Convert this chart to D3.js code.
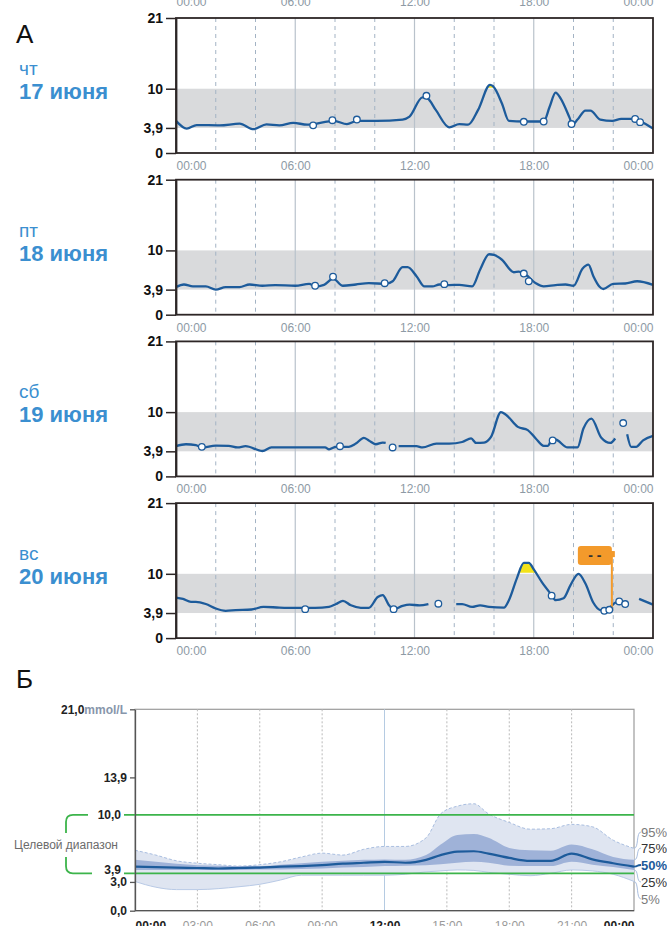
<!DOCTYPE html>
<html>
<head>
<meta charset="utf-8">
<script src="https://cdn.jsdelivr.net/npm/d3@7/dist/d3.min.js"></script>
<style>
  body { margin: 0; background: #fff; }
  svg { font-family: "Liberation Sans", Arial, sans-serif; display: block; }
</style>
</head>
<body>
<svg id="chart" width="667" height="926"></svg>
<script>
// ---- data: daily glucose traces (hour, mmol/L), null = gap ----
const dayNames = ['чт', 'пт', 'сб', 'вс'];
const dayDates = ['17 июня', '18 июня', '19 июня', '20 июня'];

const day1 = [[0,5.0],[0.54,3.8],[1.04,4.35],[2.2,4.3],[3.2,4.56],[3.9,3.7],[4.55,4.45],[5.2,4.3],[5.9,4.7],[6.6,4.4],[7.45,4.8],[7.95,5.0],[8.6,4.5],[9.1,5.0],[10.1,5.0],[11.4,5.2],[11.75,5.65],[12.4,8.65],[12.65,8.5],[13.07,6.7],[13.75,4.0],[14.25,4.5],[14.7,4.4],[15.2,6.7],[15.8,10.6],[15.95,10.4],[16.4,7.7],[16.75,5.0],[17.5,4.9],[18.5,4.9],[18.8,7.2],[19.1,9.4],[19.35,8.5],[19.8,5.5],[19.95,4.4],[20.2,5.2],[20.6,6.6],[20.85,6.6],[21.35,5.2],[21.95,5.0],[22.4,5.3],[23.1,5.3],[23.4,4.9],[24,3.8]];
const day2 = [[0,4.3],[0.4,4.7],[0.85,4.4],[1.5,4.4],[2.0,3.9],[2.5,4.3],[3.2,4.3],[3.7,4.7],[4.35,4.5],[5.0,4.6],[6.0,4.5],[6.7,4.8],[7.0,4.4],[7.45,4.65],[7.9,5.6],[8.4,4.5],[9.05,4.7],[9.7,4.9],[10.55,4.8],[10.9,5.2],[11.4,7.4],[11.65,7.4],[12.1,6.0],[12.5,4.4],[12.9,4.4],[13.25,4.7],[13.75,4.6],[14.25,4.65],[14.9,4.4],[15.3,7.0],[15.75,9.4],[16.0,9.3],[16.4,8.55],[17.0,6.6],[17.25,6.7],[17.6,6.2],[18.1,4.9],[18.5,4.4],[19.1,4.6],[19.6,4.7],[20.0,4.5],[20.45,7.15],[20.75,7.8],[21.0,6.0],[21.3,4.4],[21.5,4.0],[22.0,4.8],[22.6,4.85],[23.2,5.2],[24,4.65]];
const day3 = [[0,4.7],[0.5,5.0],[1.0,4.85],[1.3,4.5],[2.0,4.8],[2.65,4.75],[3.1,4.5],[3.5,4.7],[4.35,3.95],[4.8,4.5],[6.0,4.5],[7.5,4.5],[7.7,4.2],[8.05,4.6],[8.7,4.6],[9.05,5.1],[9.45,6.0],[9.7,5.6],[10.05,5.0],[10.4,5.25],[10.55,5.2],[10.7,null],[11.2,4.7],[12.1,4.7],[12.4,4.5],[13.1,5.1],[13.75,5.1],[14.4,5.35],[14.85,5.9],[15.1,5.2],[15.5,5.25],[15.85,6.15],[16.35,10.0],[16.6,9.6],[17.2,7.7],[17.7,7.2],[18.1,5.9],[18.5,4.75],[18.7,4.75],[18.95,5.9],[19.2,5.6],[19.7,4.5],[20.2,4.5],[20.5,7.45],[20.9,9.0],[21.4,6.0],[21.85,5.2],[22.1,5.9],[22.4,null],[22.7,6.55],[22.9,4.6],[23.15,4.6],[23.5,5.6],[24,6.3]];
const day4 = [[0,6.3],[0.35,6.1],[0.75,5.65],[1.0,5.65],[1.5,5.3],[2.0,4.6],[2.5,4.25],[3.0,4.35],[3.8,4.45],[4.4,4.85],[5.2,4.75],[6.0,4.7],[7.0,4.7],[7.7,4.85],[8.05,5.3],[8.4,5.8],[8.8,5.1],[9.3,4.7],[9.7,4.7],[10.15,6.4],[10.4,6.7],[10.7,5.2],[10.95,4.45],[11.4,5.0],[11.75,5.2],[12.25,5.1],[12.7,5.3],[13.0,null],[14.1,5.3],[14.4,5.3],[14.9,4.85],[15.3,5.1],[15.75,4.85],[16.5,4.75],[16.75,5.9],[17.15,9.3],[17.5,11.7],[17.75,11.7],[18.0,10.7],[18.4,8.75],[18.9,6.7],[19.1,5.9],[19.5,6.2],[19.85,8.25],[20.25,10.0],[20.6,8.5],[21.0,5.5],[21.35,4.35],[21.6,4.25],[21.85,4.85],[22.1,5.5],[22.3,5.7],[22.5,null],[23.3,6.1],[24,5.2]];

// scan readings (hour, mmol/L)
const day1Scans = [[6.9,4.3],[7.87,5.1],[9.1,5.2],[12.6,8.9],[17.5,4.85],[18.5,4.9],[19.9,4.5],[23.1,5.3],[23.35,4.8]];
const day2Scans = [[7.0,4.5],[7.9,5.9],[10.5,4.9],[13.5,4.75],[17.5,6.4],[17.75,5.2]];
const day3Scans = [[1.3,4.6],[8.25,4.7],[10.9,4.5],[18.95,5.6],[22.5,8.3]];
const day4Scans = [[6.5,4.5],[10.95,4.5],[13.2,5.35],[18.9,6.6],[21.55,4.25],[21.8,4.4],[22.3,5.7],[22.6,5.3]];

// note on day 4
const noteHour = 21.93;
const noteValue = 4.6;

const hourTicks = [0, 6, 12, 18, 24];
const hourLabels = ['00:00', '06:00', '12:00', '18:00', '00:00'];
const dashHours = [2, 4, 8, 10, 14, 16, 20, 22];
const yTicksA = [0, 3.9, 10, 21];
const yLabelsA = ['0', '3,9', '10', '21'];
const targetLow = 3.9, targetHigh = 10;

// ---- data: ambulatory glucose profile (panel Б) ----
const agpHours = [0,1,2,3,4,5,6,7,8,9,10,11,12,13,14,14.7,15.5,16.3,17,18,19,20,21,22,23,24];
const p95 = [6.3,5.8,5.2,4.95,4.8,4.65,4.8,5.1,5.6,6.0,5.8,6.4,6.7,6.7,7.6,10.1,10.9,11.15,10.1,9.2,8.5,8.55,9.0,8.75,7.35,6.5];
const p75 = [5.3,5.1,4.9,4.75,4.7,4.65,4.65,4.8,4.95,5.1,5.2,5.3,5.35,5.3,5.8,6.9,7.9,8.0,7.6,6.55,6.3,6.25,6.9,6.4,5.6,5.3];
const p50 = [4.6,4.55,4.5,4.45,4.4,4.45,4.5,4.6,4.65,4.75,4.9,5.0,5.1,5.0,5.3,5.8,6.15,6.2,5.95,5.5,5.2,5.2,5.95,5.35,4.95,4.6];
const p25 = [4.25,4.25,4.25,4.25,4.25,4.25,4.3,4.3,4.35,4.4,4.5,4.55,4.65,4.7,4.75,4.85,5.0,5.1,5.0,4.7,4.65,4.65,5.1,4.8,4.55,4.25];
const p5  = [3.05,2.45,2.2,2.2,2.3,2.5,2.75,3.2,3.7,3.7,3.7,3.7,3.7,3.8,4.05,4.15,4.25,4.2,4.0,3.8,3.65,3.9,4.25,4.15,3.8,3.05];
const pctLabels = ['95%', '75%', '50%', '25%', '5%'];
const agpHourTicks = [0, 3, 6, 9, 12, 15, 18, 21, 24];
const agpHourLabels = ['00:00','03:00','06:00','09:00','12:00','15:00','18:00','21:00','00:00'];
const yTicksB = [0, 3, 3.9, 10, 13.9, 21];

const svg = d3.select('#chart');
const days = [day1, day2, day3, day4];
const scans = [day1Scans, day2Scans, day3Scans, day4Scans];

// ---------- panel А ----------
svg.append('text').attr('x', 16).attr('y', 43).attr('font-size', 26).attr('fill', '#111').text('А');

const xA = d3.scaleLinear().domain([0, 24]).range([176, 653]);
const plotH = 135;

function styleHourLabels(g) {
    g.selectAll('text')
        .attr('font-size', 12)
        .attr('font-family', '"Liberation Sans", Arial, sans-serif')
        .attr('fill', '#8d9aa5')
        .attr('text-anchor', (d, j) => j === 0 ? 'start' : (j === hourTicks.length - 1 ? 'end' : 'middle'));
}

// cut-off labels of the previous day at the very top
svg.append('g')
    .attr('transform', 'translate(0,-9)')
    .call(d3.axisBottom(xA).tickValues(hourTicks).tickFormat((d, j) => hourLabels[j]).tickSize(0).tickPadding(6.5))
    .call(g => g.select('.domain').remove())
    .call(styleHourLabels);

days.forEach((data, i) => {
    const top = 18 + i * 161.7;
    const y = d3.scaleLinear().domain([0, 21]).range([top + plotH, top]);
    const g = svg.append('g');

    // target range band
    g.append('rect')
        .attr('x', xA(0)).attr('width', xA(24) - xA(0))
        .attr('y', y(targetHigh)).attr('height', y(targetLow) - y(targetHigh))
        .attr('fill', '#d9dadc');

    // vertical grid
    dashHours.forEach(h => {
        g.append('line')
            .attr('x1', xA(h)).attr('x2', xA(h)).attr('y1', top).attr('y2', top + plotH)
            .attr('stroke', '#a3b3c4').attr('stroke-width', 1).attr('stroke-dasharray', '4,4');
    });
    [6, 12, 18].forEach(h => {
        g.append('line')
            .attr('x1', xA(h)).attr('x2', xA(h)).attr('y1', top).attr('y2', top + plotH)
            .attr('stroke', '#b9c2cb').attr('stroke-width', 1.2);
    });

    // out of range fills (clipped a pixel inside the thresholds)
    const defs = svg.append('defs');
    defs.append('clipPath').attr('id', 'hi' + i).append('rect')
        .attr('x', xA(0)).attr('width', xA(24) - xA(0)).attr('y', top).attr('height', y(targetHigh) - top - 1);
    defs.append('clipPath').attr('id', 'lo' + i).append('rect')
        .attr('x', xA(0)).attr('width', xA(24) - xA(0)).attr('y', y(targetLow) + 1).attr('height', top + plotH - y(targetLow));

    const areaHi = d3.area().defined(d => d[1] != null)
        .x(d => xA(d[0])).y0(y(targetHigh)).y1(d => y(d[1])).curve(d3.curveMonotoneX);
    const areaLo = d3.area().defined(d => d[1] != null)
        .x(d => xA(d[0])).y0(y(targetLow)).y1(d => y(d[1])).curve(d3.curveMonotoneX);
    g.append('path').datum(data).attr('d', areaHi).attr('fill', '#f2e21a').attr('clip-path', `url(#hi${i})`);
    g.append('path').datum(data).attr('d', areaLo).attr('fill', '#e8504a').attr('clip-path', `url(#lo${i})`);

    // glucose trace
    const line = d3.line().defined(d => d[1] != null)
        .x(d => xA(d[0])).y(d => y(d[1])).curve(d3.curveMonotoneX);
    g.append('path').datum(data)
        .attr('d', line).attr('fill', 'none')
        .attr('stroke', '#1d5b9b').attr('stroke-width', 2.3).attr('stroke-linejoin', 'round');

    // note flag (day 4)
    if (i === 3) {
        const nx = xA(noteHour);
        g.append('line').attr('x1', nx).attr('x2', nx).attr('y1', top + 48).attr('y2', y(noteValue))
            .attr('stroke', '#f39a2b').attr('stroke-width', 2);
        g.append('rect').attr('x', nx - 34).attr('y', top + 43).attr('width', 34).attr('height', 19)
            .attr('rx', 3).attr('fill', '#f39a2b');
        g.append('rect').attr('x', nx - 1).attr('y', top + 48).attr('width', 4).attr('height', 6)
            .attr('fill', '#f39a2b');
        g.append('text').attr('x', nx - 17).attr('y', top + 57).attr('text-anchor', 'middle')
            .attr('font-size', 14).attr('font-weight', 'bold').attr('fill', '#333').text('- -');
    }

    // scan points
    g.selectAll('circle.scan').data(scans[i]).join('circle')
        .attr('class', 'scan')
        .attr('cx', d => xA(d[0])).attr('cy', d => y(d[1])).attr('r', 3.3)
        .attr('fill', '#fff').attr('stroke', '#1d5b9b').attr('stroke-width', 1.3);

    // frame
    g.append('rect')
        .attr('x', xA(0)).attr('y', top).attr('width', xA(24) - xA(0)).attr('height', plotH)
        .attr('fill', 'none').attr('stroke', '#2d2626').attr('stroke-width', 1.8);

    // y axis
    g.append('g')
        .attr('transform', `translate(${xA(0)},0)`)
        .call(d3.axisLeft(y).tickValues(yTicksA).tickFormat((d, j) => yLabelsA[j]).tickSize(10).tickSizeOuter(0).tickPadding(3))
        .call(a => a.select('.domain').attr('stroke', '#2d2626').attr('stroke-width', 1.8))
        .call(a => a.selectAll('.tick line').attr('stroke', '#2d2626').attr('stroke-width', 1.5))
        .call(a => a.selectAll('text')
            .attr('font-size', 14).attr('font-weight', 'bold').attr('fill', '#111')
            .attr('font-family', '"Liberation Sans", Arial, sans-serif'));

    // x labels
    g.append('g')
        .attr('transform', `translate(0,${top + plotH})`)
        .call(d3.axisBottom(xA).tickValues(hourTicks).tickFormat((d, j) => hourLabels[j]).tickSize(0).tickPadding(8.5))
        .call(a => a.select('.domain').remove())
        .call(styleHourLabels);

    // day labels
    g.append('text').attr('x', 19).attr('y', top + 57)
        .attr('font-size', 19).attr('fill', '#3b8fd0').text(dayNames[i]);
    g.append('text').attr('x', 19).attr('y', top + 81)
        .attr('font-size', 22).attr('font-weight', 'bold').attr('fill', '#3b8fd0').text(dayDates[i]);
});

// ---------- panel Б ----------
svg.append('text').attr('x', 16).attr('y', 688).attr('font-size', 26).attr('fill', '#111').text('Б');

const xB = d3.scaleLinear().domain([0, 24]).range([135, 634]);
const yB = d3.scaleLinear().domain([0, 21]).range([910.7, 709.3]);
const gB = svg.append('g');

// frame
gB.append('rect')
    .attr('x', xB(0)).attr('y', yB(21)).attr('width', xB(24) - xB(0)).attr('height', yB(0) - yB(21))
    .attr('fill', 'none').attr('stroke', '#9b9b9b').attr('stroke-width', 1.2);

// vertical grid
agpHourTicks.slice(1, -1).forEach(h => {
    gB.append('line')
        .attr('x1', xB(h)).attr('x2', xB(h)).attr('y1', yB(21)).attr('y2', yB(0))
        .attr('stroke', h === 12 ? '#b5cbe2' : '#b9b9b9')
        .attr('stroke-width', 1)
        .attr('stroke-dasharray', h === 12 ? null : '2,2');
});

const agp = agpHours.map((h, j) => ({ h, p95: p95[j], p75: p75[j], p50: p50[j], p25: p25[j], p5: p5[j] }));

const outerArea = d3.area().x(d => xB(d.h)).y0(d => yB(d.p5)).y1(d => yB(d.p95)).curve(d3.curveMonotoneX);
const innerArea = d3.area().x(d => xB(d.h)).y0(d => yB(d.p25)).y1(d => yB(d.p75)).curve(d3.curveMonotoneX);
const lineOf = key => d3.line().x(d => xB(d.h)).y(d => yB(d[key])).curve(d3.curveMonotoneX);

gB.append('path').datum(agp).attr('d', outerArea).attr('fill', '#dfe5f1');
gB.append('path').datum(agp).attr('d', lineOf('p95')).attr('fill', 'none')
    .attr('stroke', '#a9bee0').attr('stroke-width', 1).attr('stroke-dasharray', '3,2');
gB.append('path').datum(agp).attr('d', lineOf('p5')).attr('fill', 'none')
    .attr('stroke', '#b9cae6').attr('stroke-width', 1);
gB.append('path').datum(agp).attr('d', innerArea).attr('fill', '#9fb2d8');

// target range lines
[targetHigh, targetLow].forEach(v => {
    gB.append('line')
        .attr('x1', 124).attr('x2', xB(24)).attr('y1', yB(v)).attr('y2', yB(v))
        .attr('stroke', '#3cb44b').attr('stroke-width', 1.8);
});

gB.append('path').datum(agp).attr('d', lineOf('p50')).attr('fill', 'none')
    .attr('stroke', '#1d5b9b').attr('stroke-width', 2.2);

// y axis
const isTarget = d => d === targetHigh || d === targetLow;
gB.append('g')
    .attr('transform', `translate(${xB(0)},0)`)
    .call(d3.axisLeft(yB).tickValues(yTicksB).tickFormat(d => d3.format('.1f')(d).replace('.', ',')).tickSize(5).tickSizeOuter(0).tickPadding(3))
    .call(a => a.select('.domain').attr('stroke', '#555').attr('stroke-width', 1.3))
    .call(a => a.selectAll('.tick line')
        .attr('stroke', d => isTarget(d) ? 'none' : '#555').attr('stroke-width', 1.3))
    .call(a => a.selectAll('text')
        .attr('font-size', 12).attr('font-weight', 'bold').attr('fill', '#222')
        .attr('font-family', '"Liberation Sans", Arial, sans-serif')
        .attr('x', d => isTarget(d) ? -14 : -8)
        .attr('dy', d => d === targetLow ? '0.05em' : '0.32em')
        .each(function (d) {
            if (d === 21) {
                d3.select(this).append('tspan').attr('fill', '#8796ab').text('mmol/L');
            }
        }));

// bottom axis line
gB.append('line').attr('x1', xB(0)).attr('x2', xB(24)).attr('y1', yB(0)).attr('y2', yB(0))
    .attr('stroke', '#555').attr('stroke-width', 1.3);

// x labels
gB.append('g')
    .attr('transform', `translate(0,${yB(0)})`)
    .call(d3.axisBottom(xB).tickValues(agpHourTicks).tickFormat((d, j) => agpHourLabels[j]).tickSize(0).tickPadding(11))
    .call(a => a.select('.domain').remove())
    .call(a => a.selectAll('text')
        .attr('font-size', 12)
        .attr('font-family', '"Liberation Sans", Arial, sans-serif')
        .attr('font-weight', d => (d % 12 === 0) ? 'bold' : 'normal')
        .attr('fill', d => (d % 12 === 0) ? '#222' : '#9a9a9a')
        .attr('text-anchor', (d, j) => j === 0 ? 'start' : (j === agpHourTicks.length - 1 ? 'end' : 'middle')));

// target range bracket
gB.append('path')
    .attr('d', `M88,${yB(targetHigh)} H73 Q66,${yB(targetHigh)} 66,${yB(targetHigh) + 7} V833 M66,857 V${yB(targetLow) - 7} Q66,${yB(targetLow)} 73,${yB(targetLow)} H92`)
    .attr('fill', 'none').attr('stroke', '#3cb44b').attr('stroke-width', 1.8);
gB.append('text').attr('x', 66).attr('y', 849).attr('text-anchor', 'middle')
    .attr('font-size', 12).attr('fill', '#6b6b6b').text('Целевой диапазон');

// percentile labels with connectors
const lastAgp = agp[agp.length - 1];
const pctEnds = [lastAgp.p95, lastAgp.p75, lastAgp.p50, lastAgp.p25, lastAgp.p5];
const pctY = [837, 853, 870, 887, 904];
pctLabels.forEach((t, j) => {
    const y1 = yB(pctEnds[j]);
    const y2 = pctY[j] - 5;
    gB.append('path')
        .attr('d', `M${xB(24)},${y1} C${xB(24) + 5},${y1} ${xB(24) + 2},${y2} ${xB(24) + 7},${y2}`)
        .attr('fill', 'none').attr('stroke', j === 2 ? '#1d5b9b' : '#a9bee0').attr('stroke-width', j === 2 ? 1.8 : 1);
    gB.append('text').attr('x', 641).attr('y', pctY[j])
        .attr('font-size', 13)
        .attr('font-weight', j === 2 ? 'bold' : 'normal')
        .attr('fill', j === 2 ? '#1d5b9b' : (j === 1 || j === 3 ? '#333' : '#7a7a7a'))
        .text(t);
});
</script>
</body>
</html>
